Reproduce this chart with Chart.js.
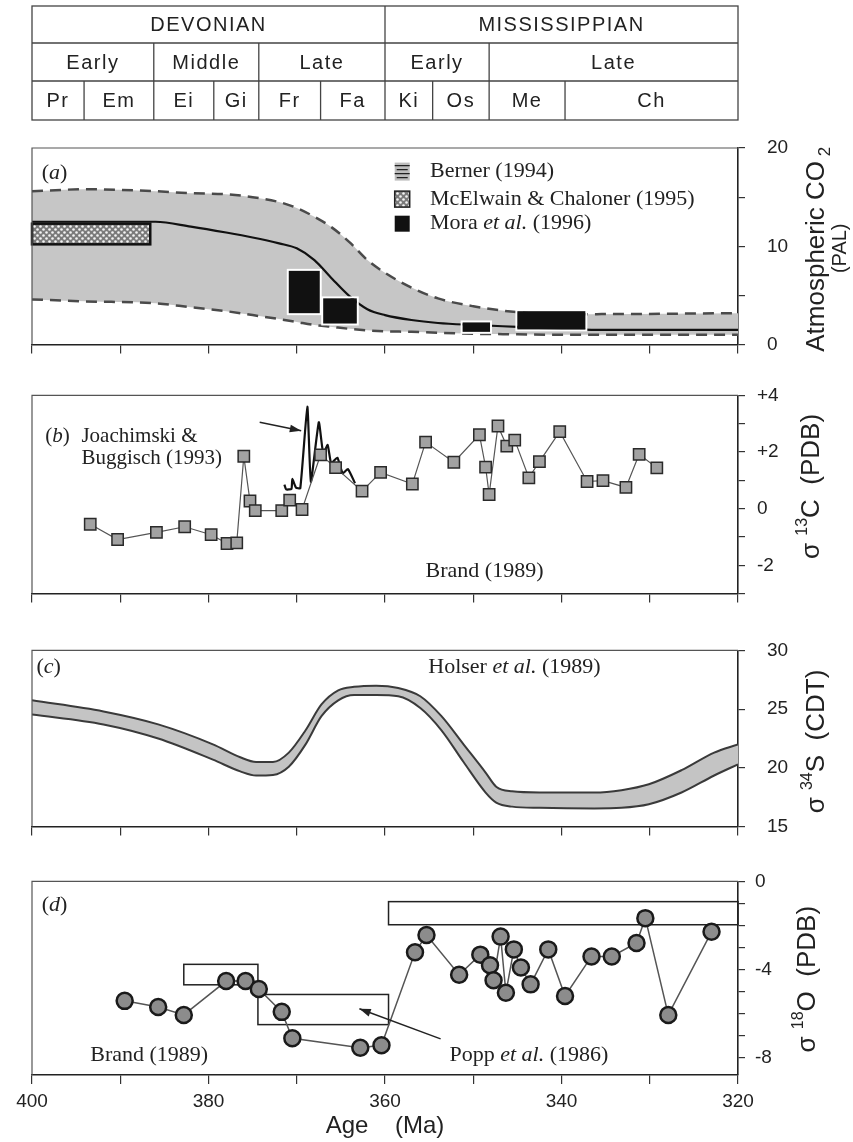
<!DOCTYPE html>
<html>
<head>
<meta charset="utf-8">
<script src="https://cdn.jsdelivr.net/npm/chart.js@4.4.1/dist/chart.umd.min.js"></script>
<style>
body { margin: 0; background: #fff; }
#wrap { position: relative; width: 853px; height: 1142px; background: #fff; overflow: hidden; }
#wrap canvas { position: absolute; left: 0; }
</style>
</head>
<body>
<div id="wrap">
  <canvas id="cA" width="853" height="378" style="top:0px"></canvas>
  <canvas id="cB" width="853" height="245" style="top:372px"></canvas>
  <canvas id="cC" width="853" height="243" style="top:617px"></canvas>
  <canvas id="cD" width="853" height="282" style="top:860px"></canvas>
</div>
<script>
// ---------------- time scale (Ma) ----------------
const periods = ["DEVONIAN", "MISSISSIPPIAN"];
const periodEdges = [400, 360, 320];
const epochs = ["Early", "Middle", "Late", "Early", "Late"];
const epochEdges = [400, 386.2, 374.3, 360, 348.2, 320];
const stages = ["Pr", "Em", "Ei", "Gi", "Fr", "Fa", "Ki", "Os", "Me", "Ch"];
const stageEdges = [400, 394.1, 386.2, 379.4, 374.3, 367.3, 360, 354.6, 348.2, 339.6, 320];

const xTicks = [400, 390, 380, 370, 360, 350, 340, 330, 320];
const xLabelVals = [400, 380, 360, 340, 320];

// ---------------- (a) atmospheric CO2 ----------------
const co2Ages = [400, 394, 386, 382, 378, 375, 372, 370, 368, 366, 364, 362, 360, 357, 354, 350, 345, 340, 336, 320];
const co2High = [15.6, 15.8, 15.6, 15.4, 15.3, 15.0, 14.5, 13.9, 13.0, 11.9, 10.4, 8.6, 7.3, 5.8, 4.7, 3.9, 3.3, 3.1, 3.1, 3.2];
const co2Low  = [4.6, 4.4, 4.2, 3.8, 3.4, 3.0, 2.6, 2.3, 2.0, 1.8, 1.6, 1.45, 1.35, 1.3, 1.2, 1.1, 1.05, 1.0, 1.0, 1.0];
const co2Mid  = [12.5, 12.5, 12.5, 12.0, 11.4, 10.9, 10.3, 9.8, 8.6, 6.7, 4.9, 3.6, 3.0, 2.5, 2.2, 2.0, 1.8, 1.6, 1.5, 1.5];
// McElwain & Chaloner box: [older age, younger age, low, high]
const mcelwainBox = [400, 386.6, 10.2, 12.3];
// Mora et al. boxes
const moraOld   = [370.9, 367.0, 351.2, 345.0];
const moraYoung = [367.4, 363.2, 348.1, 337.3];
const moraLow   = [3.2, 2.15, 1.3, 1.55];
const moraHigh  = [7.5, 4.7, 2.25, 3.4];
const aTicks = [0, 5, 10, 15, 20];

// ---------------- (b) carbon isotopes ----------------
const brandCAges = [393.4, 390.3, 385.9, 382.7, 379.7, 377.9, 376.8, 376.0, 375.3, 374.7, 371.7, 370.8, 369.4, 367.3, 365.6, 362.6, 360.5, 356.9, 355.4, 352.2, 349.3, 348.6, 348.2, 347.2, 346.2, 345.3, 343.7, 342.5, 340.2, 337.1, 335.3, 332.7, 331.2, 329.2];
const brandC = [-0.55, -1.09, -0.84, -0.64, -0.92, -1.23, -1.21, 1.85, 0.27, -0.07, -0.07, 0.3, -0.03, 1.9, 1.45, 0.62, 1.28, 0.87, 2.35, 1.64, 2.61, 1.47, 0.5, 2.92, 2.21, 2.42, 1.09, 1.66, 2.72, 0.96, 0.99, 0.75, 1.92, 1.44];
const joachAges = [371.4, 371.2, 370.6, 370.5, 370.1, 369.6, 368.8, 368.4, 367.5, 367.0, 366.5, 366.1, 365.4, 364.8, 364.2, 363.4];
const joachC = [0.85, 0.68, 0.7, 1.05, 0.75, 0.72, 3.6, 0.95, 3.05, 1.95, 2.25, 1.6, 1.8, 1.25, 1.4, 0.9];
const bTicks = [-3, -2, -1, 0, 1, 2, 3, 4];
const bLabelVals = [-2, 0, 2, 4];

// ---------------- (c) sulphur isotopes ----------------
const sAges = [400, 391.9, 385.7, 379.5, 376.4, 374.6, 372.7, 370.9, 369.0, 367.2, 365.3, 363.5, 361.0, 358.5, 356.0, 353.6, 351.1, 348.6, 347.4, 345.6, 342.5, 336.3, 333.2, 330.1, 326.4, 322.7, 320];
const sUpper = [25.75, 24.8, 23.7, 22.0, 20.9, 20.5, 20.5, 21.3, 23.2, 25.4, 26.6, 26.9, 27.0, 26.8, 26.1, 24.4, 22.0, 19.6, 18.4, 18.0, 17.9, 17.9, 18.1, 18.6, 19.8, 21.3, 22.0];
const sLower = [24.55, 23.7, 22.5, 20.7, 19.7, 19.35, 19.4, 20.1, 22.0, 24.4, 25.75, 26.2, 26.2, 26.1, 25.1, 23.2, 20.5, 17.9, 17.05, 16.7, 16.6, 16.55, 16.6, 16.9, 17.9, 19.35, 20.3];
const cTicks = [15, 20, 25, 30];

// ---------------- (d) oxygen isotopes ----------------
const oAges = [389.5, 385.7, 382.8, 378.0, 375.8, 374.3, 371.7, 370.5, 362.8, 360.4, 356.6, 355.3, 351.6, 349.2, 348.1, 347.7, 346.9, 346.3, 345.4, 344.6, 343.5, 341.5, 339.6, 336.6, 334.3, 331.5, 330.5, 327.9, 323.0];
const oVals = [-5.43, -5.71, -6.07, -4.53, -4.53, -4.89, -5.93, -7.13, -7.56, -7.45, -3.22, -2.44, -4.24, -3.33, -3.81, -4.49, -2.51, -5.06, -3.09, -3.91, -4.68, -3.09, -5.21, -3.41, -3.41, -2.80, -1.67, -6.07, -2.29];
// Popp et al. boxes
const poppOld    = [359.6, 382.8, 374.4];
const poppYoung  = [320, 374.4, 359.6];
const poppTop    = [-0.92, -3.77, -5.14];
const poppBottom = [-1.97, -4.7, -6.51];
const dTicks = [0, -1, -2, -3, -4, -5, -6, -7, -8];
const dLabelVals = [0, -4, -8];

// ---------------------------------------------------------------
const SANS = '"Liberation Sans", Arial, sans-serif';
const SERIF = '"Liberation Serif", "Times New Roman", serif';
Chart.defaults.font.family = SANS;
Chart.defaults.color = "#222";
Chart.defaults.animation = false;

function pts(xs, ys) {
    return xs.map((x, i) => ({ x: x, y: ys[i] }));
}

function serifFont(italic, size) {
    return (italic ? "italic " : "") + (size || 22) + "px " + SERIF;
}

// text made of pieces, some italic
function drawNote(ctx, x, y, parts, size) {
    ctx.textAlign = "left";
    ctx.textBaseline = "middle";
    ctx.fillStyle = "#222";
    let cx = x;
    parts.forEach((p) => {
        ctx.font = serifFont(p[1], size);
        ctx.fillText(p[0], cx, y);
        cx += ctx.measureText(p[0]).width;
    });
}

// rotated axis title reading bottom to top, pieces: [text, size, dy]
function drawVTitle(ctx, cx, cy, parts) {
    ctx.save();
    ctx.translate(cx, cy);
    ctx.rotate(-Math.PI / 2);
    ctx.textAlign = "left";
    ctx.textBaseline = "middle";
    ctx.fillStyle = "#222";
    let w = 0;
    parts.forEach((p) => {
        ctx.font = p[1] + "px " + SANS;
        w += ctx.measureText(p[0]).width;
    });
    let x = -w / 2;
    parts.forEach((p) => {
        ctx.font = p[1] + "px " + SANS;
        ctx.fillText(p[0], x, p[2]);
        x += ctx.measureText(p[0]).width;
    });
    ctx.restore();
}

function arrow(ctx, x0, y0, x1, y1) {
    ctx.save();
    ctx.strokeStyle = "#222";
    ctx.fillStyle = "#222";
    ctx.lineWidth = 1.5;
    ctx.beginPath();
    ctx.moveTo(x0, y0);
    ctx.lineTo(x1, y1);
    ctx.stroke();
    const a = Math.atan2(y1 - y0, x1 - x0), L = 12;
    ctx.beginPath();
    ctx.moveTo(x1, y1);
    ctx.lineTo(x1 - L * Math.cos(a - 0.33), y1 - L * Math.sin(a - 0.33));
    ctx.lineTo(x1 - L * Math.cos(a + 0.33), y1 - L * Math.sin(a + 0.33));
    ctx.closePath();
    ctx.fill();
    ctx.restore();
}

// dotted hatch used by McElwain & Chaloner
function dotPattern() {
    const c = document.createElement("canvas");
    c.width = 6;
    c.height = 6;
    const g = c.getContext("2d");
    g.fillStyle = "#7a7a7a";
    g.fillRect(0, 0, 6, 6);
    g.fillStyle = "#f4f4f4";
    [[1.5, 1.5], [4.5, 4.5]].forEach((p) => {
        g.beginPath();
        g.arc(p[0], p[1], 1.3, 0, Math.PI * 2);
        g.fill();
    });
    return g.createPattern(c, "repeat");
}

// box around the plot: top and left edges (bottom/right are the axes)
const framePlugin = {
    id: "frame",
    afterDraw(chart) {
        const { left, top, right, bottom } = chart.chartArea;
        const ctx = chart.ctx;
        ctx.save();
        ctx.strokeStyle = "#555";
        ctx.lineWidth = 1.2;
        ctx.beginPath();
        ctx.moveTo(left, bottom);
        ctx.lineTo(left, top);
        ctx.lineTo(right, top);
        ctx.stroke();
        ctx.restore();
    },
};

function xAxis(showLabels, height) {
    return {
        type: "linear",
        position: "bottom",
        reverse: true,
        min: 320,
        max: 400,
        afterBuildTicks: (s) => { s.ticks = xTicks.map((v) => ({ value: v })); },
        afterFit: (s) => { s.height = height; },
        grid: { drawOnChartArea: false, drawTicks: true, tickLength: 9, color: "#333", lineWidth: 1.2 },
        border: { display: true, color: "#222", width: 1.6 },
        ticks: {
            display: showLabels,
            autoSkip: false,
            maxRotation: 0,
            padding: 6,
            color: "#222",
            font: { size: 19, family: SANS },
            callback: (v) => (xLabelVals.includes(v) ? String(v) : ""),
        },
        title: {
            display: showLabels,
            text: "Age    (Ma)",
            color: "#222",
            font: { size: 24, family: SANS },
            padding: { top: 0, bottom: 1 },
        },
    };
}

function yAxis(min, max, ticks, labelFn, pad) {
    return {
        type: "linear",
        position: "right",
        min: min,
        max: max,
        afterBuildTicks: (s) => { s.ticks = ticks.map((v) => ({ value: v })); },
        afterFit: (s) => { s.width = 115; },
        grid: { drawOnChartArea: false, drawTicks: true, tickLength: 7, color: "#333", lineWidth: 1.2 },
        border: { display: true, color: "#222", width: 1.6 },
        ticks: { padding: pad, autoSkip: false, color: "#222", font: { size: 19, family: SANS }, callback: labelFn },
    };
}

function baseOptions(topPad, x, y) {
    return {
        responsive: false,
        animation: false,
        events: [],
        layout: { padding: { left: 32, right: 0, top: topPad, bottom: 0 } },
        scales: { x: x, y: y },
        plugins: {
            legend: { display: false },
            tooltip: { enabled: false },
            filler: { drawTime: "beforeDatasetsDraw" },
        },
    };
}

//------------------------------------- Panel (a) -------------------------------------
const tablePlugin = {
    id: "table",
    afterDraw(chart) {
        const ctx = chart.ctx, xs = chart.scales.x;
        const rows = [6, 43, 81, 120];
        const L = xs.getPixelForValue(400), R = xs.getPixelForValue(320);
        ctx.save();
        ctx.strokeStyle = "#444";
        ctx.lineWidth = 1.3;
        ctx.strokeRect(L, rows[0], R - L, rows[3] - rows[0]);
        ctx.beginPath();
        [rows[1], rows[2]].forEach((y) => { ctx.moveTo(L, y); ctx.lineTo(R, y); });
        ctx.stroke();
        ctx.font = "20px " + SANS;
        ctx.fillStyle = "#222";
        ctx.textAlign = "center";
        ctx.textBaseline = "middle";
        if ("letterSpacing" in ctx) ctx.letterSpacing = "1.5px";
        [[periods, periodEdges], [epochs, epochEdges], [stages, stageEdges]].forEach((row, r) => {
            const names = row[0], edges = row[1];
            const y0 = rows[r], y1 = rows[r + 1];
            ctx.beginPath();
            edges.slice(1, -1).forEach((e) => {
                const x = xs.getPixelForValue(e);
                ctx.moveTo(x, y0);
                ctx.lineTo(x, y1);
            });
            ctx.stroke();
            names.forEach((n, i) => {
                const xa = xs.getPixelForValue(edges[i]), xb = xs.getPixelForValue(edges[i + 1]);
                ctx.fillText(n, (xa + xb) / 2, (y0 + y1) / 2 + 1);
            });
        });
        ctx.restore();
    },
};

const decorA = {
    id: "decorA",
    afterDatasetsDraw(chart) {
        const ctx = chart.ctx, xs = chart.scales.x, ys = chart.scales.y;
        const px = (a) => xs.getPixelForValue(a), py = (v) => ys.getPixelForValue(v);
        ctx.save();
        // McElwain & Chaloner
        let x0 = px(mcelwainBox[0]), x1 = px(mcelwainBox[1]);
        let y0 = py(mcelwainBox[3]), y1 = py(mcelwainBox[2]);
        ctx.fillStyle = dotPattern();
        ctx.fillRect(x0, y0, x1 - x0, y1 - y0);
        ctx.strokeStyle = "#111";
        ctx.lineWidth = 2.5;
        ctx.strokeRect(x0, y0, x1 - x0, y1 - y0);
        // Mora et al.
        moraOld.forEach((a, i) => {
            const bx0 = px(a), bx1 = px(moraYoung[i]);
            const by0 = py(moraHigh[i]), by1 = py(moraLow[i]);
            ctx.strokeStyle = "#fff";
            ctx.lineWidth = 2;
            ctx.strokeRect(bx0 - 1, by0 - 1, bx1 - bx0 + 2, by1 - by0 + 2);
            ctx.fillStyle = "#111";
            ctx.fillRect(bx0, by0, bx1 - bx0, by1 - by0);
        });
        ctx.restore();
    },
    afterDraw(chart) {
        const ctx = chart.ctx, xs = chart.scales.x, ys = chart.scales.y, ca = chart.chartArea;
        const px = (a) => xs.getPixelForValue(a), py = (v) => ys.getPixelForValue(v);
        drawNote(ctx, px(398.9), py(17.4), [["(", 0], ["a", 1], [")", 0]]);
        // legend
        const rowsV = [17.6, 14.8, 12.3];
        const ix = px(358.9), tx = px(354.9);
        ctx.save();
        // Berner icon
        let yy = py(rowsV[0]);
        ctx.fillStyle = "#bdbdbd";
        ctx.fillRect(ix, yy - 9, 15, 18);
        ctx.strokeStyle = "#222";
        ctx.lineWidth = 1.4;
        ctx.beginPath();
        [-6, -2, 2, 6].forEach((d, k) => {
            ctx.moveTo(ix + (k % 2 ? 2 : 0), yy + d);
            ctx.lineTo(ix + 15 - (k % 2 ? 2 : 0), yy + d);
        });
        ctx.stroke();
        // McElwain icon
        yy = py(rowsV[1]);
        ctx.fillStyle = dotPattern();
        ctx.fillRect(ix, yy - 8, 15, 16);
        ctx.lineWidth = 1.5;
        ctx.strokeRect(ix, yy - 8, 15, 16);
        // Mora icon
        yy = py(rowsV[2]);
        ctx.fillStyle = "#111";
        ctx.fillRect(ix, yy - 8, 15, 16);
        ctx.restore();
        drawNote(ctx, tx, py(rowsV[0]), [["Berner (1994)", 0]]);
        drawNote(ctx, tx, py(rowsV[1]), [["McElwain & Chaloner (1995)", 0]]);
        drawNote(ctx, tx, py(rowsV[2]), [["Mora ", 0], ["et al.", 1], [" (1996)", 0]]);
        // axis title
        const mid = (ca.top + ca.bottom) / 2;
        drawVTitle(ctx, ca.right + 79, mid + 3, [["Atmospheric CO", 26, 0], [" 2", 17, 8]]);
        drawVTitle(ctx, ca.right + 102, mid + 2, [["(PAL)", 20, 0]]);
    },
};

const chartA = new Chart(document.getElementById("cA").getContext("2d"), {
    type: "line",
    data: {
        datasets: [
            {
                data: pts(co2Ages, co2High),
                borderColor: "#4a4a4a",
                borderWidth: 2.5,
                borderDash: [11, 7],
                pointRadius: 0,
                cubicInterpolationMode: "monotone",
                fill: "+1",
                backgroundColor: "#c6c6c6",
            },
            {
                data: pts(co2Ages, co2Low),
                borderColor: "#4a4a4a",
                borderWidth: 2.5,
                borderDash: [11, 7],
                pointRadius: 0,
                cubicInterpolationMode: "monotone",
                fill: false,
            },
            {
                data: pts(co2Ages, co2Mid),
                borderColor: "#111",
                borderWidth: 2.2,
                pointRadius: 0,
                cubicInterpolationMode: "monotone",
                fill: false,
                order: -1,
            },
        ],
    },
    options: baseOptions(148, xAxis(false, 23), yAxis(0, 20, aTicks, (v) => (v % 10 === 0 ? String(v) : ""), 22)),
    plugins: [framePlugin, tablePlugin, decorA],
});

//------------------------------------- Panel (b) -------------------------------------
const decorB = {
    id: "decorB",
    afterDraw(chart) {
        const ctx = chart.ctx, xs = chart.scales.x, ys = chart.scales.y, ca = chart.chartArea;
        const px = (a) => xs.getPixelForValue(a), py = (v) => ys.getPixelForValue(v);
        drawNote(ctx, px(398.5), py(2.55), [["(", 0], ["b", 1], [")", 0]], 21);
        drawNote(ctx, px(394.4), py(2.55), [["Joachimski &", 0]], 21);
        drawNote(ctx, px(394.4), py(1.78), [["Buggisch (1993)", 0]], 21);
        drawNote(ctx, px(355.4), py(-2.22), [["Brand (1989)", 0]]);
        arrow(ctx, px(374.2), py(3.05), px(369.5), py(2.75));
        const mid = (ca.top + ca.bottom) / 2;
        drawVTitle(ctx, ca.right + 74, mid - 8, [["σ ", 26, 0], ["13", 16, -9], ["C  (PDB)", 26, 0]]);
    },
};

const chartB = new Chart(document.getElementById("cB").getContext("2d"), {
    type: "line",
    data: {
        datasets: [
            {
                data: pts(brandCAges, brandC),
                borderColor: "#555",
                borderWidth: 1.2,
                tension: 0,
                pointStyle: "rect",
                pointRadius: 8,
                pointBackgroundColor: "#a2a2a2",
                pointBorderColor: "#2a2a2a",
                pointBorderWidth: 1.5,
                fill: false,
            },
            {
                data: pts(joachAges, joachC),
                borderColor: "#111",
                borderWidth: 2.2,
                tension: 0.15,
                pointRadius: 0,
                fill: false,
            },
        ],
    },
    options: baseOptions(18, xAxis(false, 20), yAxis(-3, 4, bTicks,
        (v) => (bLabelVals.includes(v) ? (v > 0 ? "+" + v : String(v)) : ""), 12)),
    plugins: [framePlugin, decorB],
});

//------------------------------------- Panel (c) -------------------------------------
const decorC = {
    id: "decorC",
    afterDraw(chart) {
        const ctx = chart.ctx, xs = chart.scales.x, ys = chart.scales.y, ca = chart.chartArea;
        const px = (a) => xs.getPixelForValue(a), py = (v) => ys.getPixelForValue(v);
        drawNote(ctx, px(399.5), py(28.55), [["(", 0], ["c", 1], [")", 0]]);
        drawNote(ctx, px(355.1), py(28.6), [["Holser ", 0], ["et al.", 1], [" (1989)", 0]]);
        const mid = (ca.top + ca.bottom) / 2;
        drawVTitle(ctx, ca.right + 79, mid + 3, [["σ ", 26, 0], ["34", 16, -9], ["S  (CDT)", 26, 0]]);
    },
};

const chartC = new Chart(document.getElementById("cC").getContext("2d"), {
    type: "line",
    data: {
        datasets: [
            {
                data: pts(sAges, sUpper),
                borderColor: "#3a3a3a",
                borderWidth: 2,
                pointRadius: 0,
                cubicInterpolationMode: "monotone",
                fill: "+1",
                backgroundColor: "#c4c4c4",
            },
            {
                data: pts(sAges, sLower),
                borderColor: "#3a3a3a",
                borderWidth: 2,
                pointRadius: 0,
                cubicInterpolationMode: "monotone",
                fill: false,
            },
        ],
    },
    options: baseOptions(16, xAxis(false, 20), yAxis(15, 30, cTicks, (v) => String(v), 22)),
    plugins: [framePlugin, decorC],
});

//------------------------------------- Panel (d) -------------------------------------
const decorD = {
    id: "decorD",
    beforeDatasetsDraw(chart) {
        const ctx = chart.ctx, xs = chart.scales.x, ys = chart.scales.y;
        const px = (a) => xs.getPixelForValue(a), py = (v) => ys.getPixelForValue(v);
        ctx.save();
        ctx.strokeStyle = "#222";
        ctx.lineWidth = 1.5;
        poppOld.forEach((a, i) => {
            const x0 = px(a), x1 = px(poppYoung[i]);
            const y0 = py(poppTop[i]), y1 = py(poppBottom[i]);
            ctx.strokeRect(x0, y0, x1 - x0, y1 - y0);
        });
        ctx.restore();
    },
    afterDraw(chart) {
        const ctx = chart.ctx, xs = chart.scales.x, ys = chart.scales.y, ca = chart.chartArea;
        const px = (a) => xs.getPixelForValue(a), py = (v) => ys.getPixelForValue(v);
        drawNote(ctx, px(398.9), py(-1.08), [["(", 0], ["d", 1], [")", 0]]);
        drawNote(ctx, px(393.4), py(-7.88), [["Brand (1989)", 0]]);
        drawNote(ctx, px(352.7), py(-7.88), [["Popp ", 0], ["et al.", 1], [" (1986)", 0]]);
        arrow(ctx, px(353.7), py(-7.16), px(362.9), py(-5.79));
        const mid = (ca.top + ca.bottom) / 2;
        drawVTitle(ctx, ca.right + 70, mid + 1, [["σ ", 26, 0], ["18", 16, -9], ["O  (PDB)", 26, 0]]);
    },
};

const chartD = new Chart(document.getElementById("cD").getContext("2d"), {
    type: "line",
    data: {
        datasets: [
            {
                data: pts(oAges, oVals),
                borderColor: "#555",
                borderWidth: 1.5,
                tension: 0,
                pointStyle: "circle",
                pointRadius: 8,
                pointBackgroundColor: "#8c8c8c",
                pointBorderColor: "#1a1a1a",
                pointBorderWidth: 2.5,
                fill: false,
            },
        ],
    },
    options: baseOptions(13, xAxis(true, 67), yAxis(-8.8, 0, dTicks,
        (v) => (dLabelVals.includes(v) ? String(v) : ""), 10)),
    plugins: [framePlugin, decorD],
});
</script>
</body>
</html>
